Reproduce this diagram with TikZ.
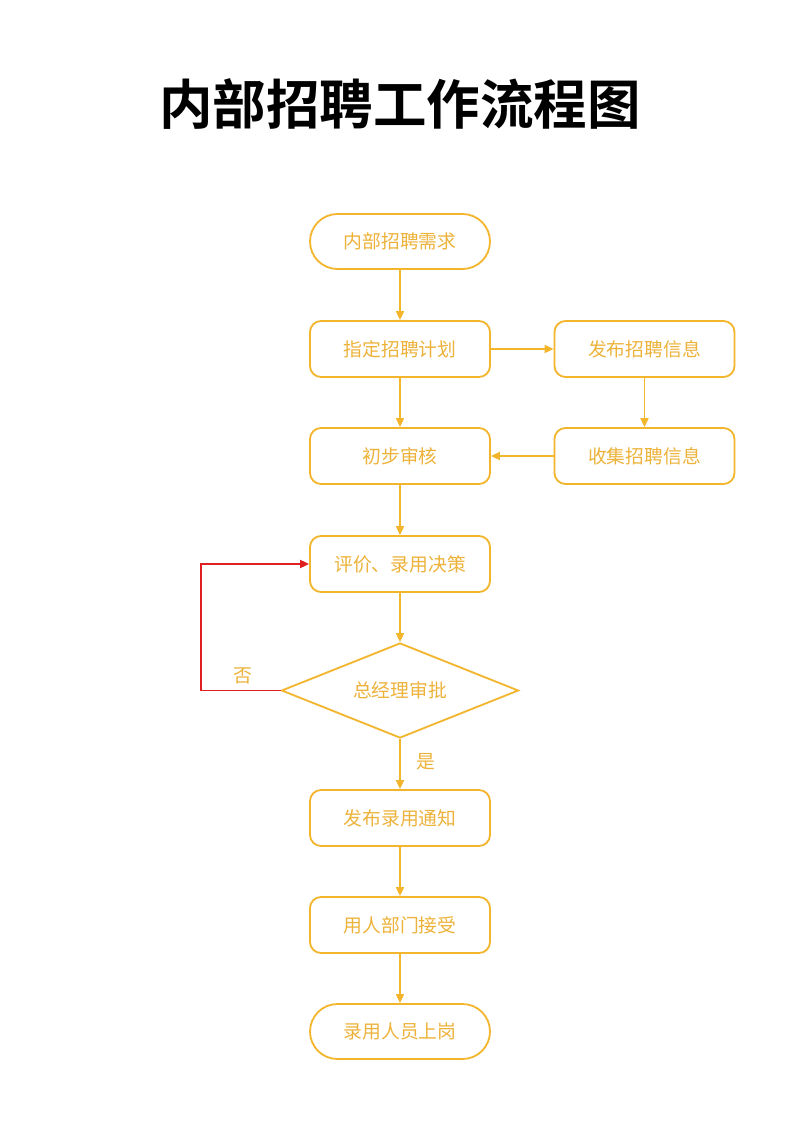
\documentclass[tikz,border=0pt]{standalone}
\usepackage{fontspec}
\newfontfamily\cjk{Noto Sans CJK SC}
\newfontfamily\cjkbold{Noto Sans CJK SC}[BoldFont={* Bold}]
\usetikzlibrary{arrows.meta,shapes.geometric}
\definecolor{amber}{HTML}{F2B52B}
\definecolor{amtext}{HTML}{EDB23A}
\definecolor{redl}{HTML}{E02020}
\begin{document}
\begin{tikzpicture}[x=1pt,y=-1pt,
  box/.style={draw=amber,line width=1.8pt,rounded corners=11pt,minimum width=180pt,minimum height=56pt,inner sep=0pt,text=amtext,font=\cjk\fontsize{18.8}{20}\selectfont},
  pill/.style={box,rounded corners=27.5pt,minimum height=55pt},
  dia/.style={draw=amber,line width=1.8pt,diamond,aspect=2.5,minimum width=237pt,minimum height=95pt,inner sep=0pt,text=amtext,font=\cjk\fontsize{18.8}{20}\selectfont},
  arr/.style={draw=amber,line width=1.8pt,-{Triangle[length=9pt,width=8pt]}},
  rarr/.style={draw=redl,line width=1.8pt,-{Triangle[length=9pt,width=8pt]}},
  lbl/.style={text=amtext,font=\cjk\fontsize{18.8}{20}\selectfont,inner sep=0pt}]
\fill[white] (0,0) rectangle (800,1131);
\useasboundingbox (0,0) rectangle (800,1131);
\node[font=\cjkbold\bfseries\fontsize{53.5}{58}\selectfont] (title) at (400,104) {内部招聘工作流程图};
\node[pill] (n1) at (400,241.5) {内部招聘需求};
\node[box] (n2) at (400,349) {指定招聘计划};
\node[box] (n3) at (644.5,349) {发布招聘信息};
\node[box] (n4) at (400,456) {初步审核};
\node[box] (n5) at (644.5,456) {收集招聘信息};
\node[box] (n6) at (400,564) {评价、录用决策};
\node[dia] (d) at (400,690.5) {总经理审批};
\node[box] (n7) at (400,818) {发布录用通知};
\node[box] (n8) at (400,925) {用人部门接受};
\node[pill] (n9) at (400,1031.5) {录用人员上岗};
\coordinate (c1) at (201,690.5);
\coordinate (c2) at (201,564);
\draw[arr] (n1) -- (n2);
\draw[arr] (n2) -- (n3);
\draw[arr] (n3) -- (n5);
\draw[arr] (n5) -- (n4);
\draw[arr] (n2) -- (n4);
\draw[arr] (n4) -- (n6);
\draw[arr] (n6) -- (d);
\draw[arr] (d) -- (n7);
\draw[arr] (n7) -- (n8);
\draw[arr] (n8) -- (n9);
\draw[rarr] (d.west) -- (c1) -- (c2) -- (n6.west);
\node[lbl] (no) at (243,676) {否};
\node[lbl] (yes) at (426,762) {是};
\end{tikzpicture}
\end{document}
